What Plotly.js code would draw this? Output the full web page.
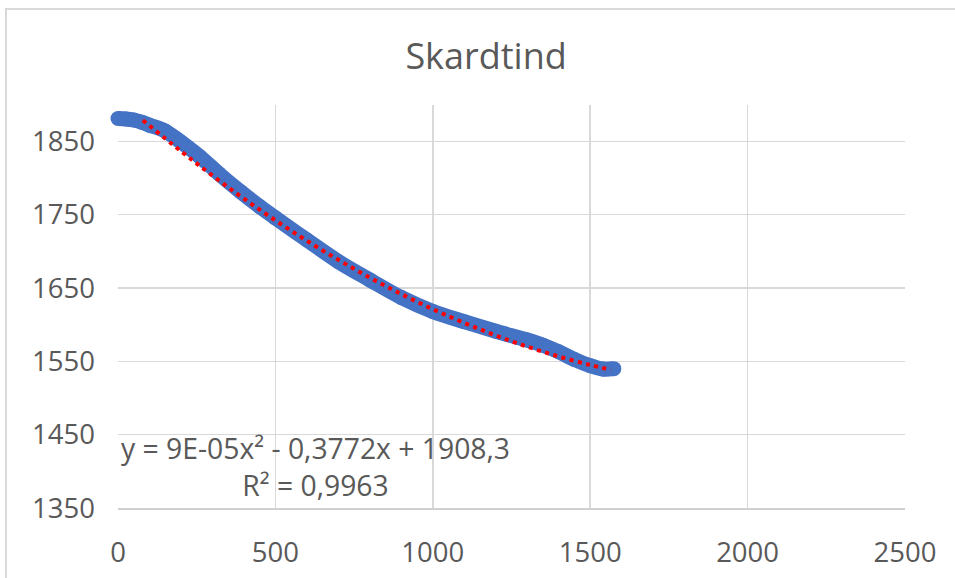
<!DOCTYPE html>
<html><head><meta charset="utf-8">
<script src="https://cdn.plot.ly/plotly-3.0.1.min.js"></script>
<style>
html,body{margin:0;padding:0;background:#fff;overflow:hidden;}
#frame{position:absolute;left:5px;top:8px;width:1000px;height:700px;border-left:2px solid #D9D9D9;border-top:2px solid #D9D9D9;}
#chart{position:absolute;left:0;top:0;width:955px;height:578px;}
</style></head><body>
<div id="frame"></div>
<div id="chart"></div>
<script>
// Measured data (distance along route, elevation)
const distance  = [0, 25, 50, 75, 100, 150, 200, 260, 320, 390, 450, 500, 600, 700, 800, 900, 1000, 1100, 1200, 1300, 1350, 1400, 1450, 1500, 1540, 1575];
const elevation = [1881, 1880.5, 1879, 1876, 1872, 1864, 1849, 1829, 1806, 1781, 1761, 1745.5, 1715.5, 1686, 1661, 1637, 1618, 1604, 1591, 1579, 1572, 1563, 1552.5, 1544, 1539.5, 1540];

// Polynomial trendline as drawn
const trendX = [79, 200, 300, 400, 500, 600, 700, 800, 900, 1000, 1100, 1200, 1300, 1400, 1500, 1566];
const trendY = [1878.7, 1836.5, 1803.2, 1771.8, 1742.2, 1714.4, 1688.4, 1664.1, 1641.7, 1621.1, 1602.4, 1585.3, 1570.0, 1556.6, 1545.0, 1538.3];

const xTicks = [0, 500, 1000, 1500, 2000, 2500];
const yTicks = [1350, 1450, 1550, 1650, 1750, 1850];
const yAxisMax = 1882;   // top of the drawn plot frame
const titleText = "Skardtind";
const eqText = "y = 9E-05x² - 0,3772x + 1908,3";
const r2Text = "R² = 0,9963";

const tickFont = {family: "Open Sans", size: 27.5, color: "#595959"};

const traces = [
  {x: distance, y: elevation, type: "scatter", mode: "lines+markers", cliponaxis: false,
   line: {color: "#4472C4", width: 15, shape: "spline"},
   marker: {color: "#4472C4", size: 15}, hoverinfo: "skip"},
  {x: trendX, y: trendY, type: "scatter", mode: "lines", cliponaxis: false,
   line: {color: "#FF0000", width: 4, dash: "4px,4.5px", shape: "spline"}, hoverinfo: "skip"}
];

const layout = {
  width: 955, height: 578,
  paper_bgcolor: "rgba(0,0,0,0)", plot_bgcolor: "rgba(0,0,0,0)",
  margin: {l: 118, r: 50, t: 105, b: 70},
  showlegend: false,
  title: {text: titleText, font: {family: "Open Sans", size: 36, color: "#595959"},
          xref: "container", x: 0.509, xanchor: "center", yref: "container", y: 0.902, yanchor: "middle"},
  xaxis: {range: [0, 2500], tickvals: xTicks, ticktext: xTicks.map(String),
          showgrid: true, gridcolor: "#D9D9D9", gridwidth: 1.5, zeroline: false,
          showline: true, linecolor: "#D0D0D0", linewidth: 1.5, ticks: "",
          ticklabelstandoff: 19, tickfont: tickFont, fixedrange: true},
  yaxis: {range: [1350, 1899.5], tickvals: yTicks, ticktext: yTicks.map(String),
          showgrid: true, gridcolor: "#D9D9D9", gridwidth: 1.5, zeroline: false,
          showline: false, ticks: "",
          ticklabelstandoff: 22, tickfont: tickFont, fixedrange: true},
  shapes: [
    {type: "rect", layer: "between", xref: "paper", yref: "y",
     x0: -0.01, x1: 1.01, y0: yAxisMax, y1: 1899.5,
     fillcolor: "#FFFFFF", line: {width: 0}}
  ],
  annotations: [
    {text: eqText + "<br>" + r2Text, x: 626, y: 1406, xref: "x", yref: "y",
     xanchor: "center", yanchor: "middle", align: "center",
     showarrow: false, font: {family: "Open Sans", size: 28.3, color: "#595959"}}
  ]
};

Plotly.newPlot("chart", traces, layout, {displayModeBar: false, staticPlot: true});
</script>
</body></html>
